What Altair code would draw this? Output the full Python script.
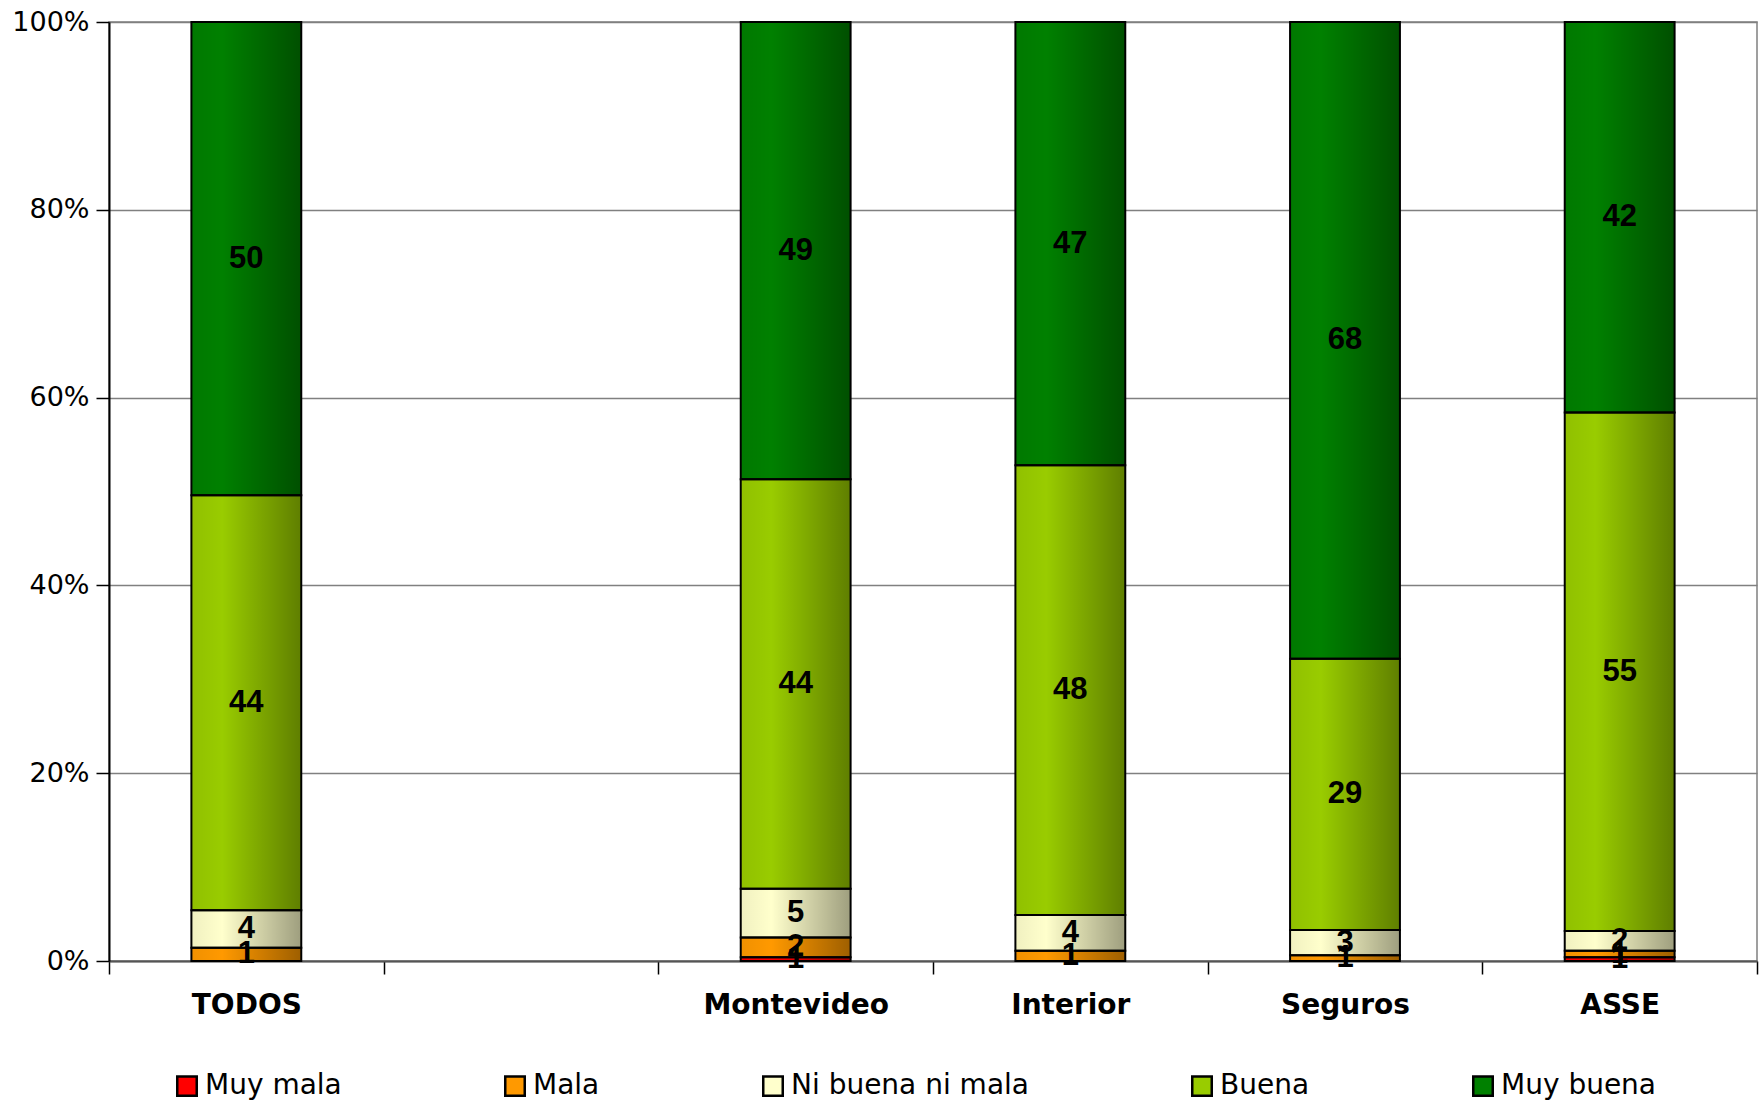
import altair as alt
import pandas as pd

grupos = ["TODOS", " ", "Montevideo", "Interior", "Seguros", "ASSE"]
categorias = ["Muy mala", "Mala", "Ni buena ni mala", "Buena", "Muy buena"]
colores = ["#FF0000", "#FF9900", "#FFFFCC", "#99CC00", "#008000"]

# percentages per group (Muy mala, Mala, Ni buena ni mala, Buena, Muy buena)
todos = [0.0, 1.4, 4.0, 44.2, 50.4]
montevideo = [0.4, 2.1, 5.2, 43.6, 48.7]
interior = [0.0, 1.1, 3.8, 47.9, 47.2]
seguros = [0.0, 0.6, 2.7, 28.9, 67.8]
asse = [0.4, 0.7, 2.1, 55.2, 41.6]

# printed labels
et_todos = ["", "1", "4", "44", "50"]
et_montevideo = ["1", "2", "5", "44", "49"]
et_interior = ["", "1", "4", "48", "47"]
et_seguros = ["", "1", "3", "29", "68"]
et_asse = ["1", "1", "2", "55", "42"]

series = {
    "TODOS": (todos, et_todos),
    "Montevideo": (montevideo, et_montevideo),
    "Interior": (interior, et_interior),
    "Seguros": (seguros, et_seguros),
    "ASSE": (asse, et_asse),
}

rows = []
for g, (vals, labs) in series.items():
    for i, (c, v, l) in enumerate(zip(categorias, vals, labs)):
        rows.append({"grupo": g, "categoria": c, "orden": i, "valor": v, "etiqueta": l})
df = pd.DataFrame(rows)

x_scale = alt.Scale(domain=grupos, paddingInner=0, paddingOuter=0)

x_enc = alt.X(
    "grupo:N",
    scale=x_scale,
    axis=alt.Axis(
        title=None,
        tickBand="extent",
        labelAngle=0,
        labelFont="DejaVu Sans",
        labelFontWeight="bold",
        labelFontSize=28,
        labelColor="#000000",
        labelPadding=17,
        labelLimit=400,
        tickSize=13,
        tickColor="#000000",
        tickWidth=1.5,
        domainColor="#555555",
        domainWidth=2,
        grid=False,
    ),
)

y_scale = alt.Scale(domain=[0, 1], nice=False)

base = alt.Chart(df).transform_stack(
    stack="valor",
    groupby=["grupo"],
    as_=["y0", "y1"],
    offset="normalize",
    sort=[alt.SortField("orden", order="ascending")],
).transform_calculate(ymid="(datum.y0 + datum.y1) / 2")

bar_w = alt.RelativeBandSize(0.4)

bars = base.transform_filter("datum.valor > 0").mark_bar(strokeWidth=0, width=bar_w).encode(
    x=x_enc,
    y=alt.Y(
        "y0:Q",
        scale=y_scale,
        axis=alt.Axis(
            title=None,
            format=".0%",
            values=[0, 0.2, 0.4, 0.6, 0.8, 1.0],
            labelFont="DejaVu Sans",
            labelFontSize=27,
            labelColor="#000000",
            labelPadding=7,
            tickSize=13,
            tickColor="#000000",
            tickWidth=1.5,
            domainColor="#000000",
            domainWidth=2,
            grid=True,
            gridColor="#808080",
            gridWidth=1.5,
        ),
    ),
    y2="y1:Q",
    color=alt.Color(
        "categoria:N",
        scale=alt.Scale(domain=categorias, range=colores),
        sort=categorias,
        legend=alt.Legend(
            title=None,
            orient="none",
            legendX=64,
            legendY=1050,
            direction="horizontal",
            columnPadding=158,
            symbolType="square",
            symbolSize=380,
            symbolStrokeColor="#000000",
            symbolStrokeWidth=2.5,
            symbolOpacity=1,
            labelFont="DejaVu Sans",
            labelFontSize=28,
            labelColor="#000000",
            labelOffset=4,
            labelLimit=400,
        ),
    ),
)

shade = base.transform_filter("datum.valor > 0").mark_bar(
    width=bar_w,
    fill=alt.Gradient(
        gradient="linear",
        x1=0, y1=0, x2=1, y2=0,
        stops=[
            alt.GradientStop(color="rgba(0,0,0,0.06)", offset=0),
            alt.GradientStop(color="rgba(0,0,0,0)", offset=0.28),
            alt.GradientStop(color="rgba(0,0,0,0.38)", offset=1),
        ],
    ),
    stroke="#000000",
    strokeWidth=2,
).encode(x=x_enc, y=alt.Y("y0:Q", scale=y_scale), y2="y1:Q")

texts = base.transform_filter("datum.etiqueta != ''").mark_text(
    font="Liberation Sans",
    fontWeight="bold",
    fontSize=31,
    color="#000000",
    baseline="middle",
    align="center",
).encode(x=x_enc, y=alt.Y("ymid:Q", scale=y_scale), text="etiqueta:N")

chart = alt.layer(bars, shade, texts).properties(
    width=1648,
    height=939,
    autosize=alt.AutoSizeParams(type="none"),
    padding={"left": 109, "top": 22, "right": 3, "bottom": 141},
    background="#FFFFFF",
).configure_view(stroke="#808080", strokeWidth=1.5)

chart.save("out.html", embed_options={"renderer": "svg", "actions": False})
